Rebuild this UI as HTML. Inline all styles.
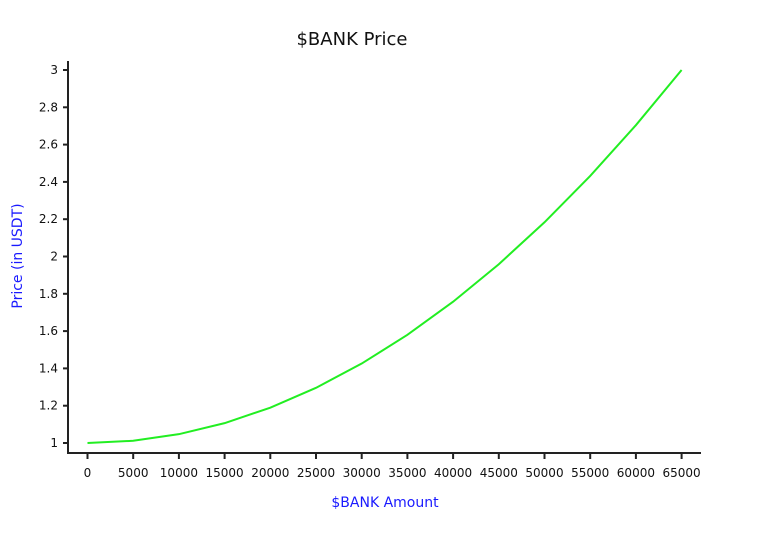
<!DOCTYPE html>
<html><head><style>body{margin:0;background:#fff}svg{display:block}</style></head><body>
<svg width="771" height="533" xmlns="http://www.w3.org/2000/svg" font-family="DejaVu Sans, sans-serif">
<text x="352" y="45" font-size="18" text-anchor="middle" fill="#111">$BANK Price</text>
<g stroke="#222" stroke-width="2" fill="none">
<line x1="68" y1="61" x2="68" y2="453"/>
<line x1="67" y1="453" x2="701" y2="453"/>
</g>
<g id="yt" font-size="12" fill="#111" text-anchor="end"></g>
<g id="xt" font-size="12" fill="#111" text-anchor="middle"></g>
<polyline id="ln" fill="none" stroke="#22ee22" stroke-width="2"/>
<text x="385" y="507" font-size="14" fill="#1a1aff" text-anchor="middle">$BANK Amount</text>
<text transform="translate(22,256) rotate(-90)" font-size="14" fill="#1a1aff" text-anchor="middle">Price (in USDT)</text>
<script>
var ns="http://www.w3.org/2000/svg",yt=document.getElementById('yt'),xt=document.getElementById('xt');
function Y(v){return 443-(v-1)*186.5}function X(v){return 87.5+v/5000*45.7}
for(var i=0;i<=10;i++){var v=1+i*0.2,y=Y(v);
var l=document.createElementNS(ns,'line');l.setAttribute('x1',63);l.setAttribute('x2',68);l.setAttribute('y1',y);l.setAttribute('y2',y);l.setAttribute('stroke','#222');l.setAttribute('stroke-width','2');yt.appendChild(l);
var t=document.createElementNS(ns,'text');t.setAttribute('x',58);t.setAttribute('y',y+4);t.textContent=(Math.round(v*10)/10).toString();yt.appendChild(t);}
var pts=[];
for(var k=0;k<=13;k++){var v=k*5000,x=X(v);
var l=document.createElementNS(ns,'line');l.setAttribute('x1',x);l.setAttribute('x2',x);l.setAttribute('y1',453);l.setAttribute('y2',459);l.setAttribute('stroke','#222');l.setAttribute('stroke-width','2');xt.appendChild(l);
var t=document.createElementNS(ns,'text');t.setAttribute('x',x);t.setAttribute('y',477);t.textContent=v;xt.appendChild(t);
var p=v/65000;pts.push(x+','+Y(1+2*p*p));}
document.getElementById('ln').setAttribute('points',pts.join(' '));
</script>
</svg>
</body></html>
